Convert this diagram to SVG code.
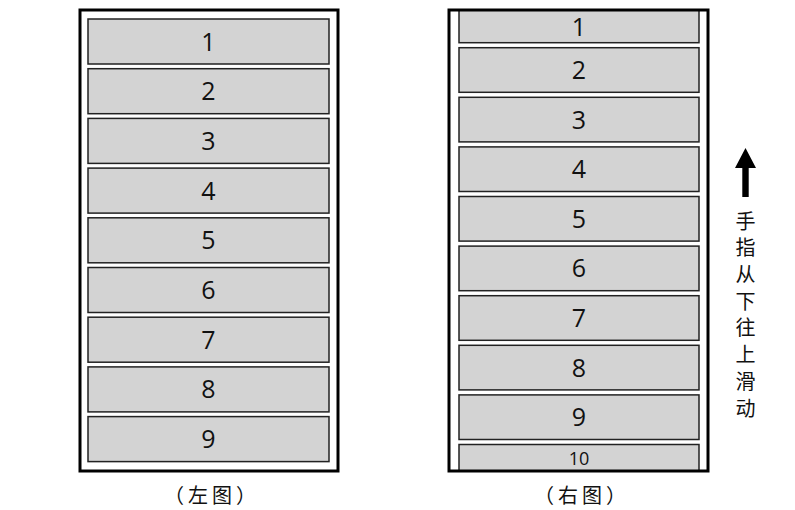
<svg xmlns="http://www.w3.org/2000/svg" width="795" height="510" viewBox="0 0 795 510">
<style>
.frame{fill:none;stroke:#000;stroke-width:3}
.item{fill:#d3d3d3;stroke:#222;stroke-width:1.5}
.lbl{font-family:"Open Sans","Noto Sans CJK SC",sans-serif;font-size:25px;fill:#111;text-anchor:middle;dominant-baseline:central}
.small{font-size:18px}
.cap{font-family:"Noto Sans CJK SC",sans-serif;font-size:20px;fill:#111;text-anchor:middle;dominant-baseline:central;letter-spacing:4px}
.vt{font-family:"Noto Sans CJK SC",sans-serif;font-size:20px;fill:#111;text-anchor:middle;dominant-baseline:central}
</style>
<defs>
<clipPath id="rc"><rect x="449" y="10" width="259" height="461"/></clipPath>
</defs>
<rect width="795" height="510" fill="#fff"/>
<g id="left">
<g id="L1"><rect class="item" x="88" y="19" width="241" height="45"/><text class="lbl" x="208.5" y="40.5">1</text></g>
<g id="L2"><rect class="item" x="88" y="68.7" width="241" height="45"/><text class="lbl" x="208.5" y="90.2">2</text></g>
<g id="L3"><rect class="item" x="88" y="118.4" width="241" height="45"/><text class="lbl" x="208.5" y="139.9">3</text></g>
<g id="L4"><rect class="item" x="88" y="168.1" width="241" height="45"/><text class="lbl" x="208.5" y="189.6">4</text></g>
<g id="L5"><rect class="item" x="88" y="217.8" width="241" height="45"/><text class="lbl" x="208.5" y="239.3">5</text></g>
<g id="L6"><rect class="item" x="88" y="267.5" width="241" height="45"/><text class="lbl" x="208.5" y="289">6</text></g>
<g id="L7"><rect class="item" x="88" y="317.2" width="241" height="45"/><text class="lbl" x="208.5" y="338.7">7</text></g>
<g id="L8"><rect class="item" x="88" y="366.9" width="241" height="45"/><text class="lbl" x="208.5" y="388.4">8</text></g>
<g id="L9"><rect class="item" x="88" y="416.6" width="241" height="45"/><text class="lbl" x="208.5" y="438.1">9</text></g>
<rect id="leftFrame" class="frame" x="80" y="10" width="258" height="461"/>
<text id="leftCap" class="cap" x="212" y="494">（左图）</text>
</g>
<g id="right">
<g clip-path="url(#rc)">
<g id="R1"><rect class="item" x="459" y="-1.9" width="240" height="44.6"/><text class="lbl" x="579" y="26">1</text></g>
<g id="R2"><rect class="item" x="459" y="47.7" width="240" height="44.6"/><text class="lbl" x="579" y="69">2</text></g>
<g id="R3"><rect class="item" x="459" y="97.3" width="240" height="44.6"/><text class="lbl" x="579" y="118.6">3</text></g>
<g id="R4"><rect class="item" x="459" y="146.9" width="240" height="44.6"/><text class="lbl" x="579" y="168.2">4</text></g>
<g id="R5"><rect class="item" x="459" y="196.5" width="240" height="44.6"/><text class="lbl" x="579" y="217.8">5</text></g>
<g id="R6"><rect class="item" x="459" y="246.1" width="240" height="44.6"/><text class="lbl" x="579" y="267.4">6</text></g>
<g id="R7"><rect class="item" x="459" y="295.7" width="240" height="44.6"/><text class="lbl" x="579" y="317">7</text></g>
<g id="R8"><rect class="item" x="459" y="345.3" width="240" height="44.6"/><text class="lbl" x="579" y="366.6">8</text></g>
<g id="R9"><rect class="item" x="459" y="394.9" width="240" height="44.6"/><text class="lbl" x="579" y="416.2">9</text></g>
<g id="R10"><rect class="item" x="459" y="444.5" width="240" height="44.6"/><text class="lbl small" x="579" y="457.5">10</text></g>
</g>
<rect id="rightFrame" class="frame" x="449" y="10" width="259" height="461"/>
<text id="rightCap" class="cap" x="582" y="494">（右图）</text>
</g>
<g id="gesture">
<polygon points="745.5,148 735,168 742.3,168 742.3,197 748.7,197 748.7,168 756,168" fill="#000"/>
<text class="vt" x="745.5" y="220">手</text>
<text class="vt" x="745.5" y="246.7">指</text>
<text class="vt" x="745.5" y="273.4">从</text>
<text class="vt" x="745.5" y="300.1">下</text>
<text class="vt" x="745.5" y="326.8">往</text>
<text class="vt" x="745.5" y="353.5">上</text>
<text class="vt" x="745.5" y="380.2">滑</text>
<text class="vt" x="745.5" y="407">动</text>
</g>
</svg>
